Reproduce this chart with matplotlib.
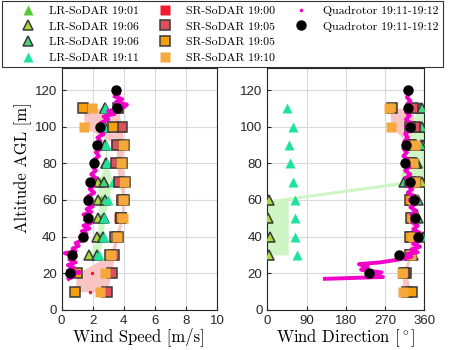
import numpy as np
import matplotlib
matplotlib.use("Agg")
import matplotlib.pyplot as plt
from matplotlib.lines import Line2D

plt.rcParams['mathtext.fontset'] = 'cm'
plt.rcParams['font.family'] = ['Liberation Sans', 'DejaVu Sans']

# ---------------- data ----------------
lr_alt = [30, 40, 50, 60, 70, 80, 90, 100, 110]
sr_alt = [10, 20, 30, 40, 50, 60, 70, 80, 90, 100, 110]

# wind speed [m/s]
ws_lr01 = [2.30, 2.40, 2.50, 2.50, 2.45, 2.85, 2.80, 2.75, 2.80]
ws_lr06a = [1.78, 2.30, 2.36, 2.36, 2.32, 2.85, 2.79, 2.75, 2.79]
ws_lr06b = [2.30, 2.64, 2.73, 2.79, 2.75, 2.85, 2.80, 2.80, 2.79]
ws_lr11 = [2.40, 2.70, 2.75, 3.00, 3.28, 2.95, 2.85, 2.75, 2.80]

ws_sr00_low = [1.82, 1.97]
ws_sr00 = [3.30, 3.50, 3.70, 3.80, 3.70, 3.50, 3.50, 3.80, 3.60]
ws_sr05a = [2.90, 3.22, 3.39, 3.43, 3.80, 3.90, 3.69, 3.50, 3.54, 3.86, 3.65]
ws_sr05b = [0.86, 0.97, 3.11, 3.65, 3.80, 4.01, 4.08, 3.90, 4.01, 3.33, 1.39]
ws_sr10 = [2.47, 2.79, 3.20, 3.55, 3.97, 3.95, 4.00, 3.85, 3.95, 1.46, 1.93]

# wind direction [deg]
wd_lr01 = [4.0, 5.0, 2.0, 4.0, 352, 345, 355, 352, 350]
wd_lr06a = [4.6, 6.1, 0.8, 4.6, 354, 344, 356, 352, 350]
wd_lr06b = [335, 358, 345, 345, 313, 340, 352, 354, 354]
wd_lr11 = [67.3, 63.5, 63.5, 63.5, 59.6, 52.8, 49.7, 59.6, 45.9]
wd_lr_band_lo = [0, 0, 0, 0, 304, 310, 322, 335, 340]
wd_lr_band_hi = [48, 48, 48, 48, 360, 360, 360, 360, 360]

wd_sr00_low = [318, 315]
wd_sr00 = [330, 330, 333, 330, 339, 330, 330, 339, 333]
wd_sr05a = [320, 318, 330, 330, 333, 330, 339, 330, 330, 339, 333]
wd_sr05b = [331, 314, 327, 327, 330, 327, 327, 327, 328, 327, 287]
wd_sr10 = [312, 308, 330, 335, 335, 333, 338, 334, 339, 284, 280]

# quadrotor
q_alt = [20, 30, 40, 50, 60, 70, 80, 90, 100, 110, 120]
q_ws = [0.55, 0.64, 1.39, 1.69, 1.71, 1.82, 2.10, 2.29, 2.47, 3.58, 3.47]
q_wd = [234, 303, 345, 339, 336, 327, 316, 319, 327, 322, 322]

qt_ws = [0.45, 0.80, 0.35, 1.20, 0.40, 0.80, 0.40, 0.90, 0.50, 0.90, 0.20, 0.90,
         0.70, 1.10, 0.90, 1.30, 1.20, 1.60, 1.30, 1.80, 1.40, 1.90, 1.50, 1.80,
         1.40, 1.90, 1.60, 2.00, 1.60, 1.90, 1.70, 2.10, 1.80, 2.10, 1.80, 2.20,
         1.90, 2.20, 2.00, 2.30, 2.10, 2.40, 2.20, 2.50, 2.20, 2.50, 2.30, 2.70,
         2.40, 2.70, 2.50, 3.00, 2.70, 3.40, 3.00, 4.00, 4.20, 3.50, 3.90, 3.40,
         3.70, 3.50]
qt_ws_alt = [17, 18.5, 19.5, 20.5, 21.5, 23, 24.5, 26, 27.5, 29, 31, 32,
             33.5, 35, 36.5, 38, 40, 41.5, 43, 44.5, 46, 47.5, 49, 50.5,
             52, 53.5, 55, 56.5, 58, 60, 62, 64, 66, 68, 70, 72,
             74, 76, 78, 80, 82, 84, 86, 88, 90, 92, 94, 96,
             98, 100, 102, 104, 105.5, 107, 108.5, 110.5, 112, 113.5, 115, 116.5,
             118, 119]

qt_wd = [132, 265, 235, 262, 215, 230, 210, 260, 300, 330, 320, 345, 330, 350,
         335, 352, 340, 350, 335, 345, 332, 345, 330, 342, 328, 340, 326, 336,
         322, 332, 320, 330, 318, 328, 316, 326, 314, 322, 312, 320, 312, 320,
         314, 322, 316, 326, 318, 328, 318, 326, 318, 328, 320, 328, 320, 326, 322]
qt_wd_alt = [17, 18, 19, 20.5, 22, 23.5, 25, 26, 27.5, 29, 30.5, 31.5, 33, 34.5,
             36, 38, 40, 42, 44, 46, 48, 50, 52, 54, 56, 58, 60, 62,
             64, 66, 68, 70, 72, 74, 76, 78, 80, 82, 84, 86, 88, 90,
             92, 94, 96, 98, 100, 102, 104, 106, 108, 110, 112, 114, 116, 118, 119]

# ---------------- style ----------------
c_lr01 = '#55c935'
c_lr06a = '#a8d83c'
c_lr06b = '#3fd67c'
c_lr11 = '#1ee39d'
c_sr00 = '#ee1c2e'
c_sr05a = '#e0505c'
c_sr05b = '#f5a00c'
c_sr10 = '#f7a83a'
c_pink = '#f8c4c4'
c_green = '#cdf5c5'
c_mag = '#f000c8'
edge = '#3a3a3a'

fig = plt.figure(figsize=(4.68, 3.5), dpi=100)
ax1 = fig.add_axes([0.1318, 0.1143, 0.3318, 0.6914])
ax2 = fig.add_axes([0.5712, 0.1143, 0.3355, 0.6914])

serif = dict(fontsize=12, family='cmr10')

def panel(ax, lr, sr, sr00, sr00_low, band_lo, band_hi, qt, qt_alt, q):
    lr01, lr06a, lr06b, lr11 = lr
    sr05a, sr05b, sr10 = sr
    allsr = np.array([sr05a, sr05b, sr10], dtype=float)
    ax.fill_betweenx(sr_alt, allsr.min(axis=0), allsr.max(axis=0),
                     color=c_pink, lw=0, zorder=1)
    ax.fill_betweenx(lr_alt, band_lo, band_hi, color=c_green, lw=0, zorder=1.1)
    ms_t, ms_s = 7.5, 6.5
    ax.plot(lr01, lr_alt, '^', color=c_lr01, ms=ms_t, mec='none', zorder=3)
    ax.plot(lr06a, lr_alt, '^', color=c_lr06a, ms=ms_t, mec=edge, mew=1.1, zorder=3)
    ax.plot(lr06b, lr_alt, '^', color=c_lr06b, ms=ms_t, mec=edge, mew=1.1, zorder=3)
    ax.plot(lr11, lr_alt, '^', color=c_lr11, ms=ms_t, mec='none', zorder=3)
    ax.plot(sr00, sr_alt[2:], 's', color=c_sr00, ms=ms_s, mec='none', zorder=3)
    ax.plot(sr00_low, sr_alt[:2], '.', color=c_sr00, ms=3, zorder=3)
    ax.plot(sr05a, sr_alt, 's', color=c_sr05a, ms=ms_s, mec=edge, mew=1.1, zorder=3)
    ax.plot(sr05b, sr_alt, 's', color=c_sr05b, ms=ms_s, mec=edge, mew=1.1, zorder=3)
    ax.plot(sr10, sr_alt, 's', color=c_sr10, ms=ms_s, mec='none', zorder=3)
    ax.plot(qt, qt_alt, '-', color=c_mag, lw=2.8, zorder=4)
    ax.plot(q, q_alt, 'o', color='black', ms=6.5, zorder=5)
    ax.set_ylim(0, 132)
    ax.set_yticks([0, 20, 40, 60, 80, 100, 120])
    ax.grid(True, color='#d9d9d9', lw=0.8)
    ax.set_axisbelow(True)
    ax.tick_params(direction='in', length=3, labelsize=9.5, colors='#262626',
                   top=False, right=False)
    for s in ax.spines.values():
        s.set_color('#262626')
        s.set_linewidth(0.8)

panel(ax1, (ws_lr01, ws_lr06a, ws_lr06b, ws_lr11), (ws_sr05a, ws_sr05b, ws_sr10),
      ws_sr00, ws_sr00_low,
      np.min([ws_lr06a, ws_lr06b, ws_lr11], axis=0),
      np.max([ws_lr06a, ws_lr06b, ws_lr11], axis=0),
      qt_ws, qt_ws_alt, q_ws)
ax1.set_xlim(0, 10)
ax1.set_xticks([0, 2, 4, 6, 8, 10])
ax1.set_xlabel('Wind Speed [m/s]', labelpad=0, **serif)
ax1.set_ylabel('Altitude AGL [m]', **serif)
ax1.yaxis.set_label_coords(-0.19, 0.59)

panel(ax2, (wd_lr01, wd_lr06a, wd_lr06b, wd_lr11), (wd_sr05a, wd_sr05b, wd_sr10),
      wd_sr00, wd_sr00_low, wd_lr_band_lo, wd_lr_band_hi,
      qt_wd, qt_wd_alt, q_wd)
ax2.set_xlim(0, 360)
ax2.set_xticks([0, 90, 180, 270, 360])
ax2.set_xlabel(r'Wind Direction [$^\circ$]', labelpad=0, **serif)

handles = [
    Line2D([], [], ls='none', marker='^', color=c_lr01, mec='none', ms=7.5),
    Line2D([], [], ls='none', marker='^', color=c_lr06a, mec=edge, mew=1.1, ms=7.5),
    Line2D([], [], ls='none', marker='^', color=c_lr06b, mec=edge, mew=1.1, ms=7.5),
    Line2D([], [], ls='none', marker='^', color=c_lr11, mec='none', ms=7.5),
    Line2D([], [], ls='none', marker='s', color=c_sr00, mec='none', ms=6.5),
    Line2D([], [], ls='none', marker='s', color=c_sr05a, mec=edge, mew=1.1, ms=6.5),
    Line2D([], [], ls='none', marker='s', color=c_sr05b, mec=edge, mew=1.1, ms=6.5),
    Line2D([], [], ls='none', marker='s', color=c_sr10, mec='none', ms=6.5),
    Line2D([], [], ls='none', marker='.', color=c_mag, ms=3),
    Line2D([], [], ls='none', marker='o', color='black', ms=6.5),
    Line2D([], [], ls='none'),
    Line2D([], [], ls='none'),
]
labels = ['LR-SoDAR 19:01', 'LR-SoDAR 19:06', 'LR-SoDAR 19:06', 'LR-SoDAR 19:11',
          'SR-SoDAR 19:00', 'SR-SoDAR 19:05', 'SR-SoDAR 19:05', 'SR-SoDAR 19:10',
          'Quadrotor 19:11-19:12', 'Quadrotor 19:11-19:12', ' ', ' ']
leg = fig.legend(handles, labels, ncol=3, loc='upper left',
                 bbox_to_anchor=(2 / 468, 1 - 1 / 350),
                 prop={'family': 'cmr10', 'size': 8.5}, frameon=True, fancybox=False,
                 borderpad=0.4, labelspacing=0.45, handletextpad=0.0,
                 handlelength=3.6, columnspacing=0.4, borderaxespad=0)
leg.get_frame().set_edgecolor('black')
leg.get_frame().set_linewidth(0.8)
leg.set_zorder(10)

fig.savefig('out.png', dpi=100)
